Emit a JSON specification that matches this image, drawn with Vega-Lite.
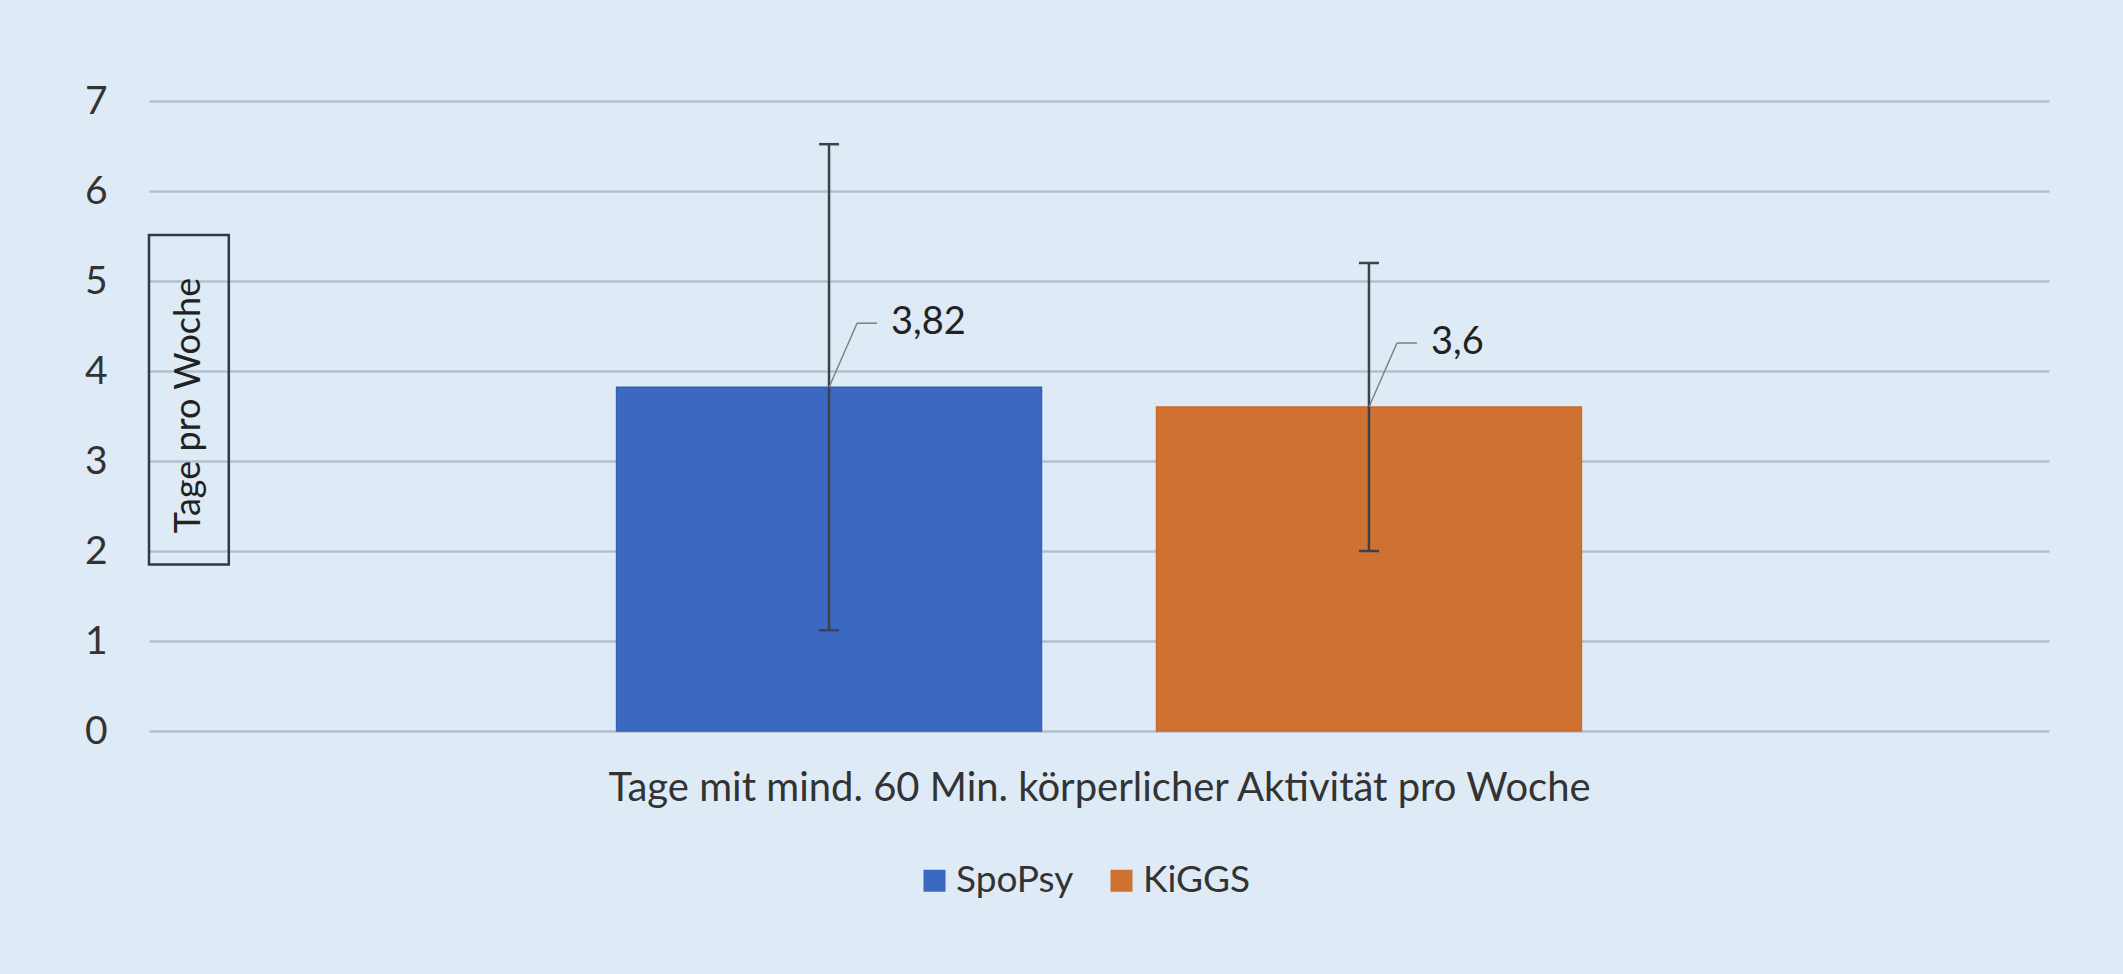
{
  "$schema": "https://vega.github.io/schema/vega-lite/v6.json",
  "width": 1900,
  "height": 630,
  "autosize": {"type": "none"},
  "padding": {"left": 149, "top": 101, "right": 74, "bottom": 243},
  "background": "#DEEBF7",
  "config": {
    "view": {"stroke": null},
    "font": "Lato",
    "locale": {"number": {"decimal": ",", "thousands": ".", "grouping": [3], "currency": ["", " €"]}}
  },
  "data": {
    "values": [
      {"category": "Tage mit mind. 60 Min. körperlicher Aktivität pro Woche", "series": "SpoPsy", "mean": 3.82, "low": 1.12, "high": 6.52},
      {"category": "Tage mit mind. 60 Min. körperlicher Aktivität pro Woche", "series": "KiGGS", "mean": 3.6, "low": 2.0, "high": 5.2}
    ]
  },
  "resolve": {"scale": {"x": "independent"}, "axis": {"x": "independent"}},
  "layer": [
    {
      "layer": [
        {
          "mark": {"type": "bar", "strokeWidth": 1.5},
          "encoding": {
            "x": {"field": "series", "type": "nominal", "sort": ["SpoPsy", "KiGGS"],
              "scale": {"paddingInner": 0.213, "paddingOuter": 0.866},
              "axis": {"labels": false, "ticks": false, "domain": false, "grid": false,
                "title": "Tage mit mind. 60 Min. körperlicher Aktivität pro Woche",
                "titleFontSize": 40, "titleFontWeight": "normal", "titleColor": "#333333", "titleFont": "Lato",
                "titleBaseline": "alphabetic", "titleX": 950, "titleY": 69, "titleAlign": "center"}},
            "y": {"field": "mean", "type": "quantitative",
              "scale": {"domain": [0, 7], "nice": false},
              "axis": {"values": [0, 1, 2, 3, 4, 5, 6, 7], "format": "d", "ticks": false, "domain": false,
                "labelFontSize": 39, "labelFont": "Lato", "labelColor": "#333333", "labelPadding": 42,
                "gridColor": "#B3BFCC", "gridWidth": 2.5,
                "title": "Tage pro Woche", "titleX": 39, "titleY": 304, "titleAngle": 270,
                "titleAlign": "center", "titleBaseline": "middle", "titleFontSize": 36,
                "titleFontWeight": "normal", "titleColor": "#222222", "titleFont": "Lato"}},
            "color": {"field": "series", "type": "nominal",
              "scale": {"domain": ["SpoPsy", "KiGGS"], "range": ["#3B68C1", "#CF7131"]},
              "legend": {"orient": "none", "legendX": 767, "legendY": 761, "direction": "horizontal",
                "title": null, "symbolType": "square", "symbolSize": 484, "symbolStrokeWidth": 0,
                "labelFontSize": 37, "labelFont": "Lato", "labelColor": "#333333",
                "columnPadding": 29, "labelOffset": 3}},
            "stroke": {"field": "series", "type": "nominal",
              "scale": {"domain": ["SpoPsy", "KiGGS"], "range": ["#3460B8", "#C96A28"]},
              "legend": null}
          }
        },
        {
          "mark": {"type": "rule", "color": "#3D4249", "strokeWidth": 2.5},
          "encoding": {
            "x": {"field": "series", "type": "nominal", "sort": ["SpoPsy", "KiGGS"]},
            "y": {"field": "low", "type": "quantitative", "title": "Tage pro Woche"},
            "y2": {"field": "high"}
          }
        },
        {
          "mark": {"type": "rule", "color": "#3D4249", "strokeWidth": 2.5, "xOffset": -10, "x2Offset": 10},
          "encoding": {
            "x": {"field": "series", "type": "nominal", "sort": ["SpoPsy", "KiGGS"]},
            "x2": {"field": "series"},
            "y": {"field": "high", "type": "quantitative", "title": "Tage pro Woche"},
            "y2": {"field": "high"}
          }
        },
        {
          "mark": {"type": "rule", "color": "#3D4249", "strokeWidth": 2.5, "xOffset": -10, "x2Offset": 10},
          "encoding": {
            "x": {"field": "series", "type": "nominal", "sort": ["SpoPsy", "KiGGS"]},
            "x2": {"field": "series"},
            "y": {"field": "low", "type": "quantitative", "title": "Tage pro Woche"},
            "y2": {"field": "low"}
          }
        },
        {
          "mark": {"type": "rule", "color": "#7F7F7F", "strokeWidth": 1.5, "x2Offset": 28, "y2Offset": -64},
          "encoding": {
            "x": {"field": "series", "type": "nominal", "sort": ["SpoPsy", "KiGGS"]},
            "x2": {"field": "series"},
            "y": {"field": "mean", "type": "quantitative", "title": "Tage pro Woche"},
            "y2": {"field": "mean"}
          }
        },
        {
          "mark": {"type": "rule", "color": "#7F7F7F", "strokeWidth": 1.5, "xOffset": 28, "x2Offset": 48, "yOffset": -64, "y2Offset": -64},
          "encoding": {
            "x": {"field": "series", "type": "nominal", "sort": ["SpoPsy", "KiGGS"]},
            "x2": {"field": "series"},
            "y": {"field": "mean", "type": "quantitative", "title": "Tage pro Woche"},
            "y2": {"field": "mean"}
          }
        },
        {
          "mark": {"type": "text", "align": "left", "baseline": "middle", "dx": 62, "dy": -64, "fontSize": 38, "font": "Lato", "color": "#222222"},
          "encoding": {
            "x": {"field": "series", "type": "nominal", "sort": ["SpoPsy", "KiGGS"]},
            "y": {"field": "mean", "type": "quantitative", "title": "Tage pro Woche"},
            "text": {"field": "mean", "type": "quantitative", "format": ".2~f"}
          }
        }
      ]
    },
    {
      "data": {"values": [{"note": "Tage pro Woche"}]},
      "mark": {"type": "rect", "fill": null, "fillOpacity": 0, "stroke": "#2B3A4F", "strokeWidth": 2.5},
      "encoding": {
        "x": {"datum": 0, "type": "quantitative", "scale": {"domain": [0, 1]}, "axis": null},
        "x2": {"datum": 0.042},
        "y": {"datum": 1.85, "type": "quantitative", "title": "Tage pro Woche"},
        "y2": {"datum": 5.51}
      }
    }
  ]
}
